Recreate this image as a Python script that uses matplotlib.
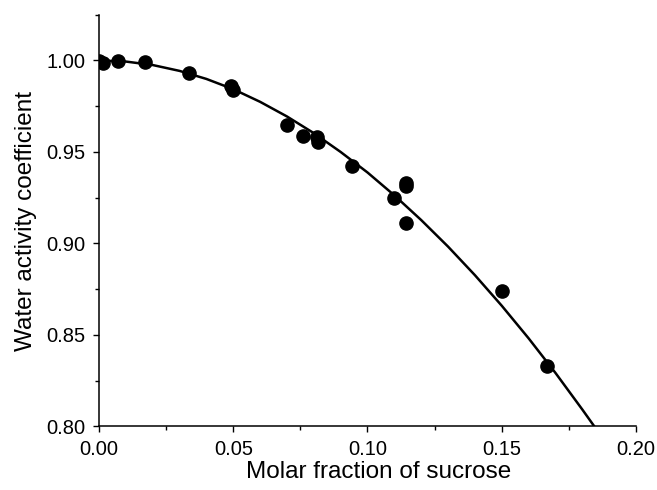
import matplotlib
matplotlib.use("Agg")
import matplotlib.pyplot as plt
from matplotlib.ticker import MultipleLocator

plt.rcParams['font.family'] = ['Liberation Sans', 'DejaVu Sans']

# measured water activity coefficients
x_frac = [0.0, 0.0015, 0.0072, 0.0171, 0.0336, 0.0490, 0.0500, 0.0700, 0.0759,
          0.0813, 0.0815, 0.0941, 0.1099, 0.1142, 0.1145, 0.1142, 0.1500, 0.1670]
gamma = [0.9995, 0.9985, 0.9998, 0.9992, 0.9930, 0.9862, 0.9840, 0.9650, 0.9586,
         0.9580, 0.9555, 0.9425, 0.9247, 0.9330, 0.9315, 0.9110, 0.8742, 0.8330]

# fitted curve
fit_x = [0.0, 0.01, 0.02, 0.03, 0.04, 0.05, 0.06, 0.07, 0.08, 0.09, 0.10,
         0.11, 0.12, 0.13, 0.14, 0.15, 0.16, 0.17, 0.18, 0.185]
fit_y = [1.0, 0.9994, 0.9975, 0.9943, 0.9899, 0.9843, 0.9774, 0.9694, 0.9603,
         0.9500, 0.9388, 0.9263, 0.9128, 0.8983, 0.8827, 0.8660, 0.8482, 0.8293,
         0.8093, 0.7990]

fig = plt.figure(figsize=(6.57, 4.90), dpi=100)
ax = fig.add_axes([0.1507, 0.1296, 0.8173, 0.8404])

ax.plot(fit_x, fit_y, color='black', lw=1.8, zorder=2)
ax.plot(x_frac, gamma, 'o', color='black', ms=9.5, zorder=3)

ax.set_xlim(0, 0.20)
ax.set_ylim(0.80, 1.025)
ax.xaxis.set_major_locator(MultipleLocator(0.05))
ax.xaxis.set_minor_locator(MultipleLocator(0.025))
ax.yaxis.set_major_locator(MultipleLocator(0.05))
ax.yaxis.set_minor_locator(MultipleLocator(0.025))
ax.xaxis.set_major_formatter(lambda v, p: f"{v:.2f}")
ax.yaxis.set_major_formatter(lambda v, p: f"{v:.2f}")

for s in ['top', 'right']:
    ax.spines[s].set_visible(False)
for s in ['left', 'bottom']:
    ax.spines[s].set_linewidth(1.1)

ax.tick_params(which='major', direction='out', length=4.5, width=1.0,
               labelsize=14.5, pad=5)
ax.tick_params(which='minor', direction='out', length=2.6, width=1.0)

ax.set_xlabel('Molar fraction of sucrose', fontsize=17.5)
ax.set_ylabel('Water activity coefficient', fontsize=17.5, labelpad=7)
ax.xaxis.set_label_coords(0.52, -0.083)

fig.savefig('out.png', dpi=100)
